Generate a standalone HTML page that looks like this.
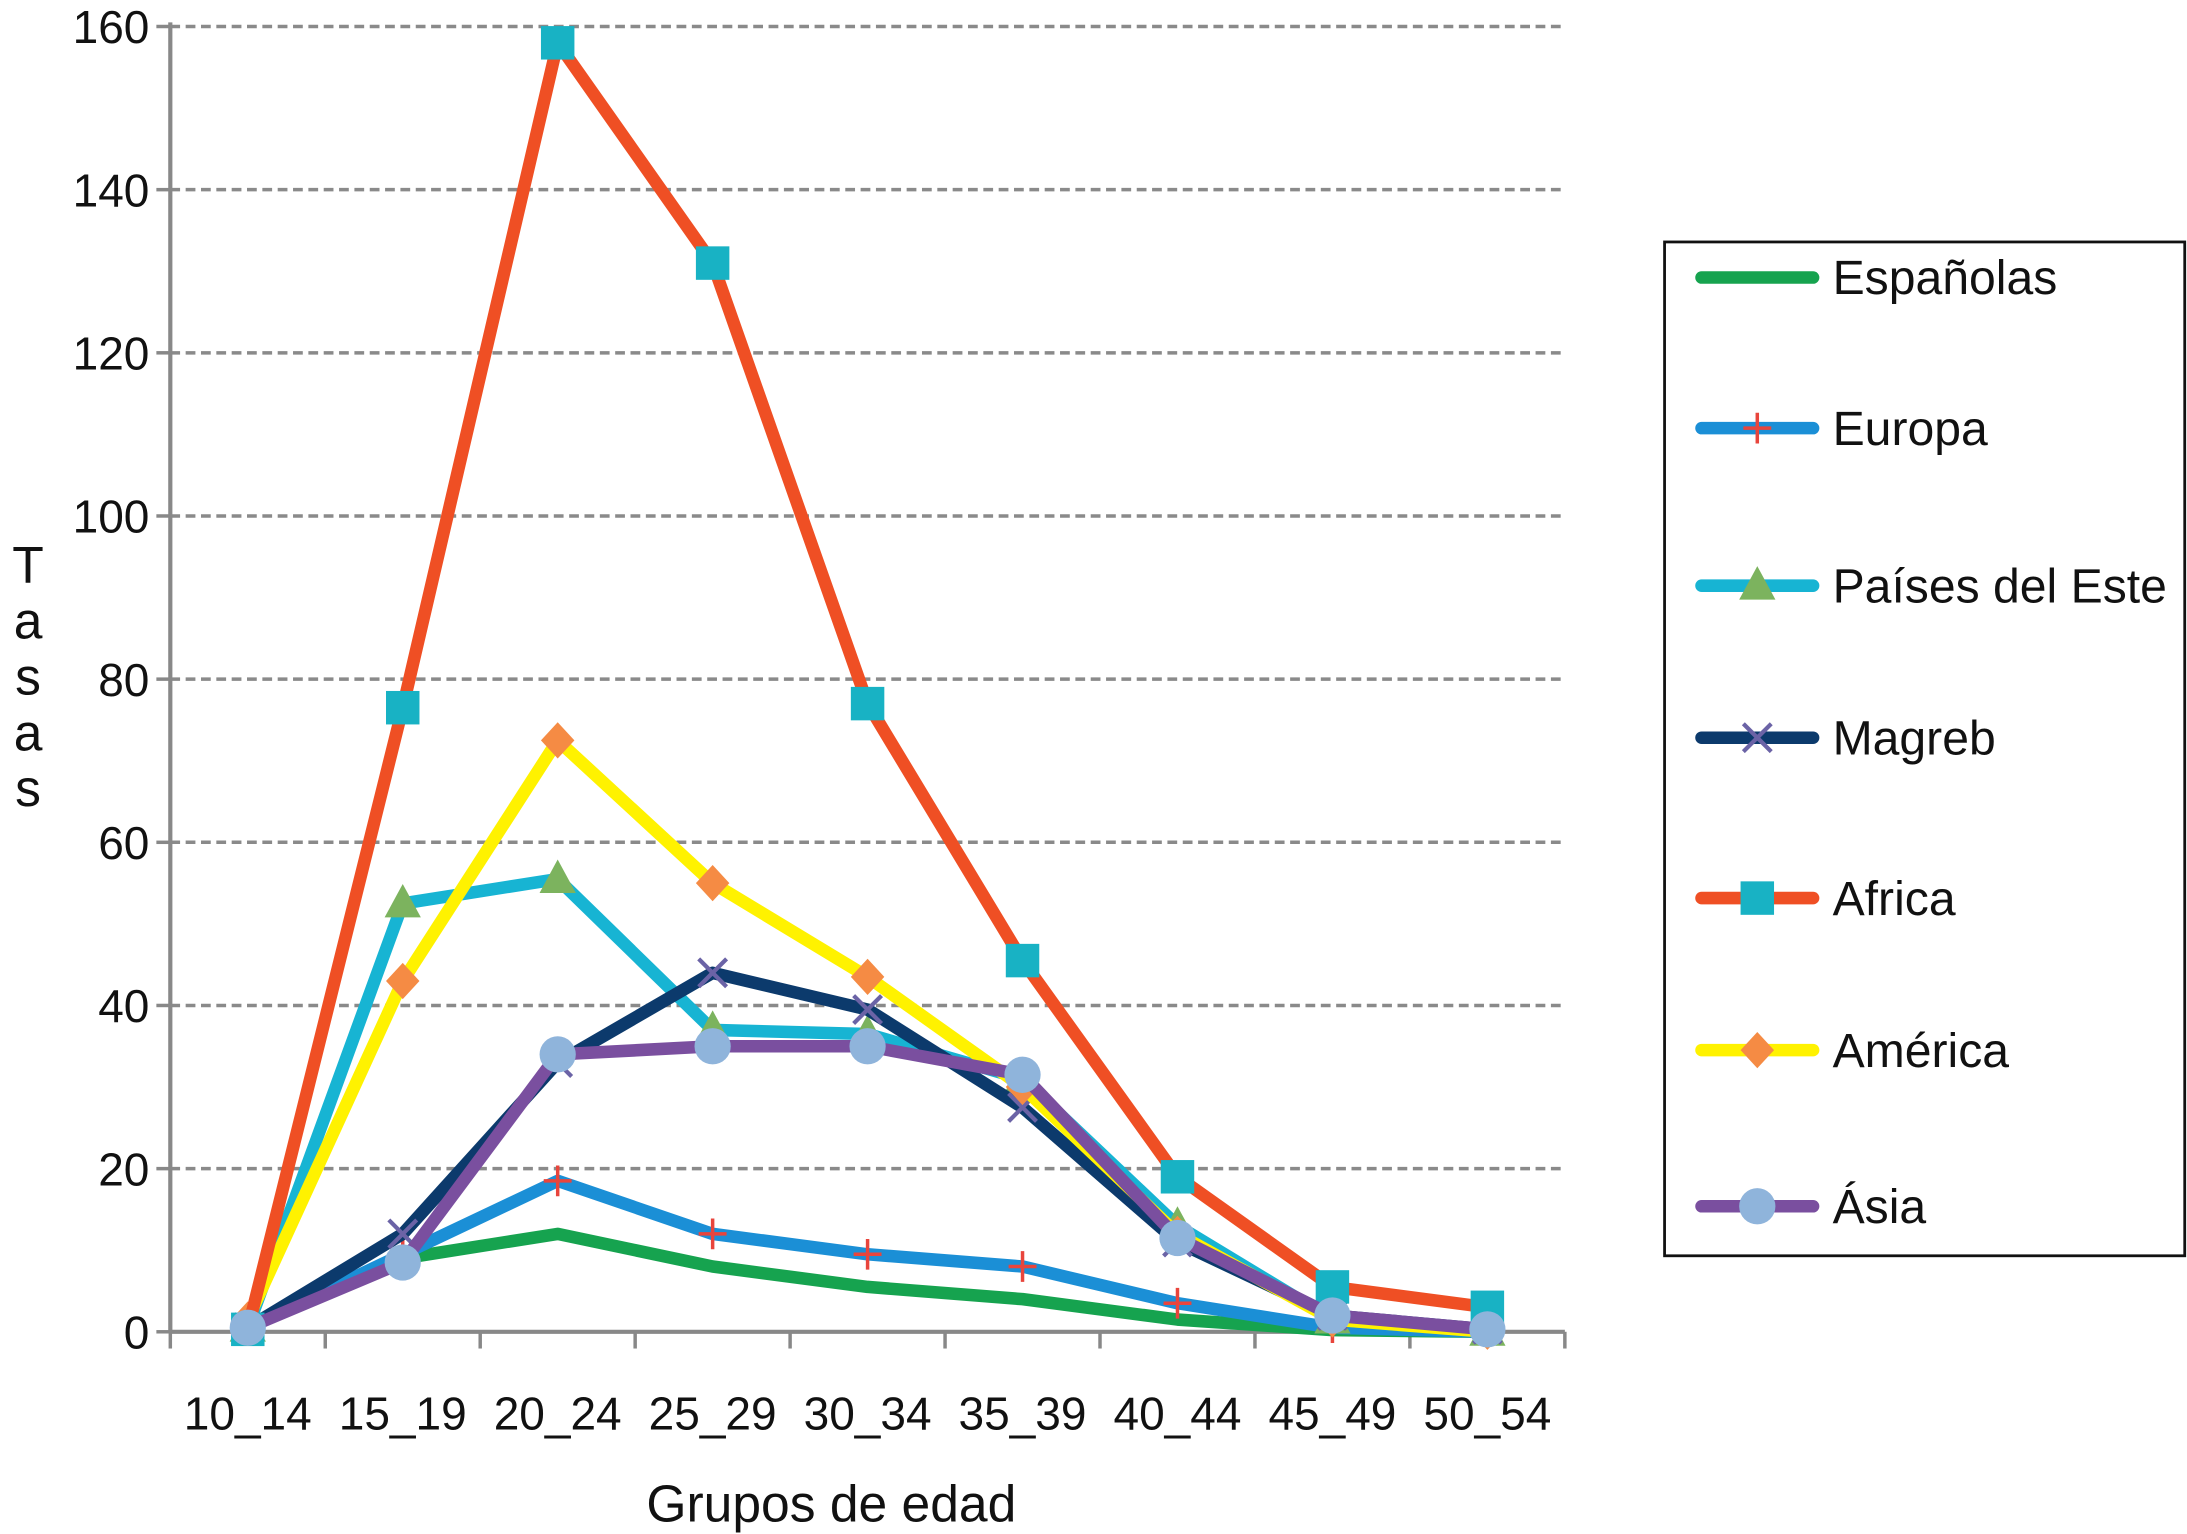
<!DOCTYPE html>
<html><head><meta charset="utf-8"><style>
html,body{margin:0;padding:0;background:#fff;}
svg{display:block;font-family:"Liberation Sans",Arial,sans-serif;}
</style></head><body>
<svg id="chart" width="2187" height="1534" viewBox="0 0 1568 1100" xmlns="http://www.w3.org/2000/svg">
<g id="grid"></g>
<g id="axes"></g>
<g id="series"></g>
<g id="legend"></g>
</svg>
<script>
const categories=["10_14","15_19","20_24","25_29","30_34","35_39","40_44","45_49","50_54"];
const yTicks=[0,20,40,60,80,100,120,140,160];
const seriesNames=["Españolas","Europa","Países del Este","Magreb","Africa","América","Ásia"];
const espanolas=[0.5,9,12,8,5.5,4,1.5,0.2,0];
const europa=[0.5,9.5,18.5,12,9.5,8,3.5,0.5,0];
const paisesEste=[0.5,52.5,55.5,37,36.5,31,13,1.5,0];
const magreb=[0.5,12,33,44,39.5,27.5,11,2,0.3];
const africa=[0.3,76.5,158,131,77,45.5,19,5.5,3];
const america=[1.5,43,72.5,55,43.5,30,12,1.5,0];
const asia=[0.5,8.5,34,35,35,31.5,11.5,2,0.3];

const NS="http://www.w3.org/2000/svg";
const X0=122,X1=1122,Y0=955,Y1=19,YMAX=160;
const bw=(X1-X0)/categories.length;
const xs=i=>X0+bw*(i+0.5);
const ys=v=>Y0-(v/YMAX)*(Y0-Y1);
function mk(tag,attrs,parent,text){const e=document.createElementNS(NS,tag);for(const k in attrs)e.setAttribute(k,attrs[k]);if(text!==undefined)e.textContent=text;parent.appendChild(e);return e;}
const grid=document.getElementById('grid'),axes=document.getElementById('axes'),ser=document.getElementById('series'),leg=document.getElementById('legend');

yTicks.forEach(t=>{
 if(t>0){const l=mk('line',{x1:X0,x2:X1,y1:ys(t),y2:ys(t),stroke:'#8a8a8a','stroke-width':2.5,'stroke-dasharray':'7,4'},grid);
 }
 const tk=mk('line',{x1:X0-10,x2:X0,y1:ys(t),y2:ys(t),stroke:'#888','stroke-width':2.5},axes);
 
 const tx=mk('text',{x:107,y:ys(t)+12,'text-anchor':'end','font-size':33,fill:'#111'},axes,String(t));
 
});
let a=mk('line',{x1:X0,x2:X0,y1:Y1-3,y2:Y0,stroke:'#888','stroke-width':3},axes);

a=mk('line',{x1:X0,x2:X1,y1:Y0,y2:Y0,stroke:'#888','stroke-width':3},axes);

for(let i=0;i<=categories.length;i++){const t=mk('line',{x1:X0+bw*i,x2:X0+bw*i,y1:Y0,y2:Y0+12,stroke:'#888','stroke-width':2.5},axes);
 }
categories.forEach((c,i)=>{const t=mk('text',{x:xs(i),y:1025,'text-anchor':'middle','font-size':33,fill:'#111'},axes,c);
 });
let tt=mk('text',{x:596,y:1091,'text-anchor':'middle','font-size':37,fill:'#111'},axes,'Grupos de edad');

const yt=mk('text',{x:20,'text-anchor':'middle','font-size':37,fill:'#111'},axes);

"Tasas".split('').forEach((ch,i)=>{mk('tspan',{x:20,y:418+i*40},yt,ch);});

function marker(g,type,x,y,col){
 if(type==='plus'){mk('path',{d:`M${x-10},${y}H${x+10}M${x},${y-11}V${y+11}`,stroke:col,'stroke-width':2.5,fill:'none'},g);}
 else if(type==='tri'){mk('path',{d:`M${x},${y-14}L${x+13},${y+10}L${x-13},${y+10}Z`,fill:col},g);}
 else if(type==='x'){mk('path',{d:`M${x-10},${y-10}L${x+10},${y+10}M${x+10},${y-10}L${x-10},${y+10}`,stroke:col,'stroke-width':3,fill:'none'},g);}
 else if(type==='sq'){mk('rect',{x:x-12,y:y-12,width:24,height:24,fill:col},g);}
 else if(type==='dia'){mk('path',{d:`M${x},${y-13}L${x+12},${y}L${x},${y+13}L${x-12},${y}Z`,fill:col},g);}
 else if(type==='circ'){mk('circle',{cx:x,cy:y,r:13,fill:col},g);}
}
const defs=[
 {name:seriesNames[0],data:espanolas,line:'#16a34f',m:null,mc:null,key:'espanolas'},
 {name:seriesNames[1],data:europa,line:'#1b8fd6',m:'plus',mc:'#e8453c',key:'europa'},
 {name:seriesNames[2],data:paisesEste,line:'#17b4d3',m:'tri',mc:'#7cb35e',key:'paises-este'},
 {name:seriesNames[3],data:magreb,line:'#0c3a6c',m:'x',mc:'#6b63a6',key:'magreb'},
 {name:seriesNames[5],data:america,line:'#fff200',m:'dia',mc:'#f58b44',key:'america'},
 {name:seriesNames[4],data:africa,line:'#ef4f24',m:'sq',mc:'#18b2c4',key:'africa'},
 {name:seriesNames[6],data:asia,line:'#7a4f9f',m:'circ',mc:'#8fb4db',key:'asia'}
];
defs.forEach(s=>{
 const g=mk('g',{},ser);
 
 const p=mk('polyline',{points:s.data.map((v,i)=>xs(i)+','+ys(v)).join(' '),fill:'none',stroke:s.line,'stroke-width':9,'stroke-linejoin':'round'},g);
 
 if(s.m) s.data.forEach((v,i)=>marker(g,s.m,xs(i),ys(v),s.mc));
});
const lb=mk('rect',{x:1193.5,y:173.5,width:373,height:727,fill:'#fff',stroke:'#111','stroke-width':2},leg);

const legOrder=[0,1,2,3,5,4,6];const legY=[199,307,420,529,644,753,865];
legOrder.forEach((di,k)=>{const s=defs[di];const y=legY[k];
 const g=mk('g',{},leg);
 mk('line',{x1:1220,x2:1300,y1:y,y2:y,stroke:s.line,'stroke-width':9,'stroke-linecap':'round'},g);
 if(s.m) marker(g,s.m,1260,y,s.mc);
 mk('text',{x:1314,y:y+12,'font-size':34.5,fill:'#111'},g,s.name);
});
</script>
</body></html>
